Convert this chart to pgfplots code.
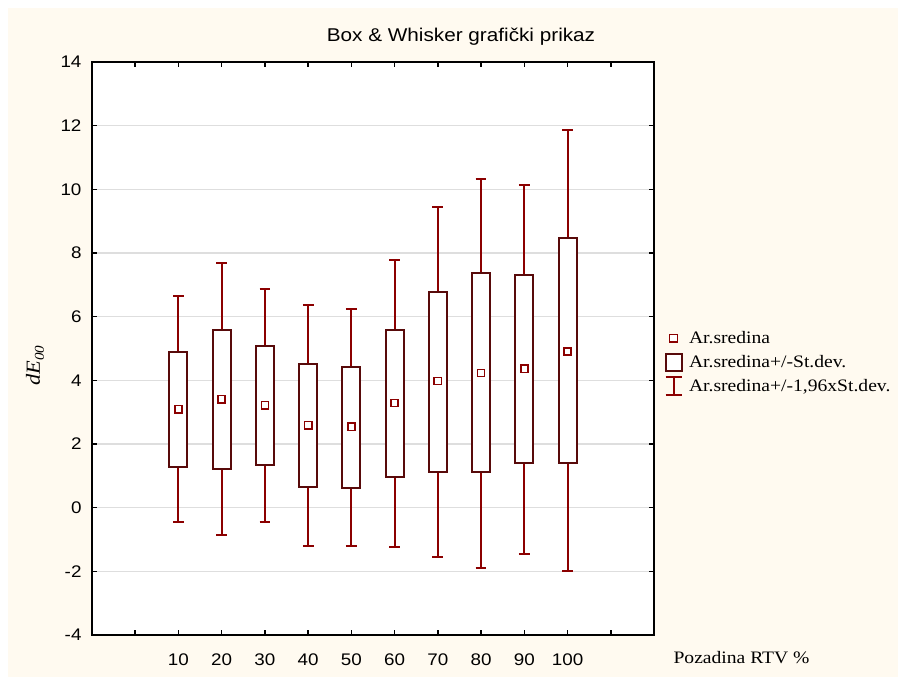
\documentclass[border=0pt]{standalone}
\usepackage{fontspec}
\usepackage{pgfplots}
\pgfplotsset{compat=1.18}
\usepgfplotslibrary{statistics}
\newfontfamily\arialfont{Liberation Sans}[FakeStretch=1.12]
\newfontfamily\timesfont{Liberation Serif}[FakeStretch=1.12]
\definecolor{cream}{RGB}{255,250,240}
\definecolor{boxred}{RGB}{88,10,10}
\definecolor{whiskred}{RGB}{139,0,0}
\definecolor{gridgray}{RGB}{222,222,222}
\pgfplotsset{
  boxplot/draw direction=y,
  boxplot/box extend=4.15,
  boxplot/whisker extend=2.5,
  boxplot/every median/.style={draw=none},
  boxplot/every box/.style={draw=boxred, line width=2pt, fill=white},
  boxplot/every whisker/.style={draw=whiskred, line width=2pt},
}
\begin{document}
\begin{tikzpicture}[x=1pt,y=1pt]
\useasboundingbox (0,0) rectangle (898,677);
\fill[white] (0,0) rectangle (898,677);
\fill[cream] (8,0) rectangle (898,669);
\begin{axis}[
  at={(92pt,42pt)}, anchor=south west,
  width=562pt, height=573pt, scale only axis,
  xmin=-10, xmax=120, ymin=-4, ymax=14,
  xtick={0,10,...,110},
  xticklabels={,10,20,30,40,50,60,70,80,90,100,},
  ytick={-4,-2,...,14},
  ymajorgrids, grid style={draw=gridgray, line width=1.2pt},
  axis line style={line width=1.5pt},
  tick style={black, line width=1.5pt},
  major tick length=5pt, tick align=inside,
  axis background/.style={fill=white},
  /pgf/number format/assume math mode=true,
  tick label style={font=\arialfont\fontsize{16.8}{18}\selectfont},
  yticklabel style={xshift=-7pt},
  xticklabel style={yshift=-15pt},
  xlabel={Pozadina RTV \%},
  xlabel style={at={(1.0285,0)}, anchor=base west, yshift=-29pt, font=\timesfont\fontsize{17.5}{20}\selectfont},
  ylabel={\itshape dE\raisebox{-3.8pt}{\fontsize{13.5}{13.5}\selectfont 00}},
  ylabel style={at={(-0.1014,0.47)}, anchor=center, font=\timesfont\fontsize{20}{22}\selectfont},
  legend style={at={(1.013,0.539)}, anchor=north west, draw=none, fill=none,
    font=\timesfont\fontsize{17.5}{20}\selectfont, row sep=4pt,
    cells={anchor=west}},
  legend cell align=left,
]
\addplot[forget plot, boxplot prepared={draw position=10, lower whisker=-0.46, lower quartile=1.27, median=3.09, upper quartile=4.90, upper whisker=6.65}] coordinates {};
\addplot[forget plot, boxplot prepared={draw position=20, lower whisker=-0.85, lower quartile=1.23, median=3.41, upper quartile=5.59, upper whisker=7.67}] coordinates {};
\addplot[forget plot, boxplot prepared={draw position=30, lower whisker=-0.44, lower quartile=1.35, median=3.22, upper quartile=5.08, upper whisker=6.88}] coordinates {};
\addplot[forget plot, boxplot prepared={draw position=40, lower whisker=-1.20, lower quartile=0.64, median=2.59, upper quartile=4.51, upper whisker=6.37}] coordinates {};
\addplot[forget plot, boxplot prepared={draw position=50, lower whisker=-1.20, lower quartile=0.61, median=2.54, upper quartile=4.42, upper whisker=6.25}] coordinates {};
\addplot[forget plot, boxplot prepared={draw position=60, lower whisker=-1.24, lower quartile=0.97, median=3.29, upper quartile=5.57, upper whisker=7.78}] coordinates {};
\addplot[forget plot, boxplot prepared={draw position=70, lower whisker=-1.56, lower quartile=1.13, median=3.98, upper quartile=6.76, upper whisker=9.46}] coordinates {};
\addplot[forget plot, boxplot prepared={draw position=80, lower whisker=-1.89, lower quartile=1.11, median=4.23, upper quartile=7.36, upper whisker=10.34}] coordinates {};
\addplot[forget plot, boxplot prepared={draw position=90, lower whisker=-1.45, lower quartile=1.40, median=4.36, upper quartile=7.31, upper whisker=10.13}] coordinates {};
\addplot[forget plot, boxplot prepared={draw position=100, lower whisker=-2.00, lower quartile=1.40, median=4.91, upper quartile=8.46, upper whisker=11.86}] coordinates {};
\addplot[only marks, mark=square*, mark size=3.6pt,
  mark options={draw=whiskred, fill=white, line width=1.6pt}, forget plot]
  coordinates {(10,3.09) (20,3.41) (30,3.22) (40,2.59) (50,2.54) (60,3.29) (70,3.98) (80,4.23) (90,4.36) (100,4.91)};
\addlegendimage{legend image code/.code={\path[draw=none,fill=none] (0,-10pt) rectangle (22pt,10pt); \draw[whiskred, line width=1.5pt, fill=white] (8.5pt-3.8pt,-3.8pt) rectangle (8.5pt+3.8pt,3.8pt);}}
\addlegendentry{Ar.sredina}
\addlegendimage{legend image code/.code={\path[draw=none,fill=none] (0,-10pt) rectangle (22pt,10pt); \draw[boxred, line width=2pt, fill=white] (0.5pt,-8.5pt) rectangle (16.5pt,8.5pt);}}
\addlegendentry{Ar.sredina+/-St.dev.}
\addlegendimage{legend image code/.code={\path[draw=none,fill=none] (0,-10pt) rectangle (22pt,10pt); \draw[whiskred, line width=2pt] (0.5pt,-9pt) -- (16.5pt,-9pt) (8.5pt,-9pt) -- (8.5pt,9pt) (0.5pt,9pt) -- (16.5pt,9pt);}}
\addlegendentry{Ar.sredina+/-1,96xSt.dev.}
\end{axis}
\node[font=\arialfont\fontsize{18.5}{20}\selectfont] at (461,640) {Box \& Whisker grafički prikaz};
\end{tikzpicture}
\end{document}
